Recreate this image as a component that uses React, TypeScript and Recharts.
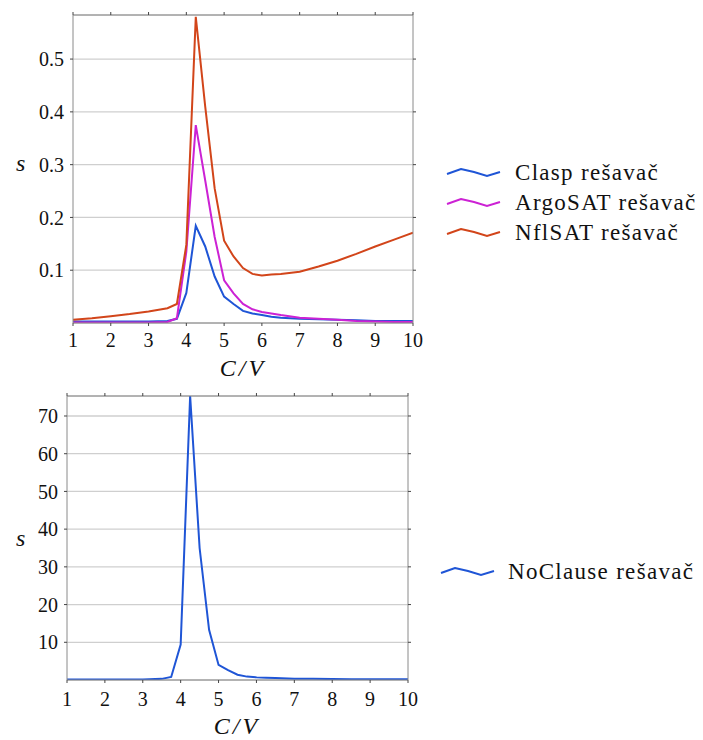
import React from 'react';
import { LineChart, Line, XAxis, YAxis, CartesianGrid } from 'recharts';

const xValues = [1, 1.5, 2, 2.5, 3, 3.5, 3.75, 4, 4.25, 4.5, 4.75, 5, 5.25, 5.5, 5.75, 6, 6.25, 6.5, 7, 7.5, 8, 8.5, 9, 9.5, 10];
const claspValues = [0.003, 0.003, 0.003, 0.003, 0.003, 0.004, 0.008, 0.057, 0.184, 0.145, 0.088, 0.05, 0.036, 0.023, 0.018, 0.015, 0.012, 0.01, 0.008, 0.007, 0.006, 0.005, 0.004, 0.004, 0.004];
const argoValues = [0.001, 0.001, 0.001, 0.001, 0.001, 0.002, 0.009, 0.135, 0.375, 0.27, 0.163, 0.081, 0.056, 0.036, 0.026, 0.021, 0.018, 0.015, 0.01, 0.008, 0.006, 0.004, 0.003, 0.002, 0.002];
const nflValues = [0.006, 0.009, 0.013, 0.017, 0.022, 0.028, 0.036, 0.148, 0.58, 0.41, 0.255, 0.156, 0.126, 0.104, 0.093, 0.09, 0.092, 0.093, 0.097, 0.107, 0.118, 0.131, 0.145, 0.158, 0.171];
const noClauseValues = [0.1, 0.1, 0.1, 0.1, 0.1, 0.3, 0.8, 9.4, 75.3, 35, 13.3, 4.0, 2.6, 1.4, 0.9, 0.7, 0.6, 0.5, 0.35, 0.3, 0.25, 0.2, 0.2, 0.2, 0.2];

const xTicks = [1, 2, 3, 4, 5, 6, 7, 8, 9, 10];
const topYTicks = [0.1, 0.2, 0.3, 0.4, 0.5];
const bottomYTicks = [10, 20, 30, 40, 50, 60, 70];

const topSeries = [
  { key: 'clasp', name: 'Clasp rešavač', values: claspValues, color: '#1f55d6' },
  { key: 'argo', name: 'ArgoSAT rešavač', values: argoValues, color: '#cc22d4' },
  { key: 'nfl', name: 'NflSAT rešavač', values: nflValues, color: '#d2451a' },
];
const bottomSeries = [
  { key: 'noclause', name: 'NoClause rešavač', values: noClauseValues, color: '#1f55d6' },
];

const topData = xValues.map((x, i) => ({ x, clasp: claspValues[i], argo: argoValues[i], nfl: nflValues[i] }));
const bottomData = xValues.map((x, i) => ({ x, noclause: noClauseValues[i] }));

const FONT = '"Liberation Serif", "DejaVu Serif", serif';
const tickStyle = { fontSize: 20, fill: '#111', fontFamily: FONT };
const empty = () => '';

function Icon({ color }: { color: string }) {
  return (
    <svg width={56} height={10} style={{ display: 'block' }}>
      <polyline points="1,6 15,1 28,4 41,8 54,4" fill="none" stroke={color} strokeWidth={2} />
    </svg>
  );
}

function Legend({ items, left, top, textGap }: { items: { name: string; color: string }[]; left: number; top: number; textGap: number }) {
  return (
    <div style={{ position: 'absolute', left, top }}>
      {items.map((it) => (
        <div key={it.name} style={{ display: 'flex', alignItems: 'center', height: 30 }}>
          <Icon color={it.color} />
          <span style={{ marginLeft: textGap, fontFamily: FONT, fontSize: 23, letterSpacing: 1.3, color: '#111', whiteSpace: 'nowrap' }}>{it.name}</span>
        </div>
      ))}
    </div>
  );
}

function Panel({ data, series, yTicks, yMax, margin, height, xTickMargin }: any) {
  return (
    <LineChart width={703} height={height} data={data} margin={margin}>
      <CartesianGrid horizontal vertical={false} stroke="#cfcfcf" strokeWidth={1.3} />
      <XAxis dataKey="x" type="number" domain={[1, 10]} ticks={xTicks} allowDataOverflow height={30}
        stroke="#8a8a8a" tickSize={3} tickMargin={xTickMargin} tick={tickStyle} tickLine={{ stroke: '#444' }} interval={0} />
      <XAxis xAxisId="top" orientation="top" dataKey="x" type="number" domain={[1, 10]} ticks={xTicks} allowDataOverflow height={4}
        stroke="#8a8a8a" tickSize={3} tickFormatter={empty} tickLine={{ stroke: '#444' }} interval={0} />
      <YAxis type="number" domain={[0, yMax]} ticks={yTicks} allowDataOverflow width={40}
        stroke="#8a8a8a" tickSize={3} tickMargin={6} tick={tickStyle} tickLine={{ stroke: '#444' }} interval={0} />
      <YAxis yAxisId="right" orientation="right" type="number" domain={[0, yMax]} ticks={yTicks} allowDataOverflow width={4}
        stroke="#8a8a8a" tickSize={3} tickFormatter={empty} tickLine={{ stroke: '#444' }} interval={0} />
      {series.map((s: any) => (
        <Line key={s.key} dataKey={s.key} type="linear" stroke={s.color} strokeWidth={2} dot={false} isAnimationActive={false} />
      ))}
    </LineChart>
  );
}

export default function App() {
  const labelStyle: React.CSSProperties = { position: 'absolute', fontFamily: FONT, fontStyle: 'italic', fontSize: 24, color: '#111', whiteSpace: 'nowrap', lineHeight: 1 };
  return (
    <div style={{ position: 'absolute', left: 0, top: 0, width: 703, height: 740, background: '#fff' }}>
      <div style={{ position: 'absolute', left: 0, top: 0 }}>
        <Panel data={topData} series={topSeries} yTicks={topYTicks} yMax={0.5835} height={370} xTickMargin={7}
          margin={{ top: 11, right: 286, bottom: 17, left: 33 }} />
      </div>
      <div style={{ position: 'absolute', left: 0, top: 370 }}>
        <Panel data={bottomData} series={bottomSeries} yTicks={bottomYTicks} yMax={75.3} height={370} xTickMargin={9}
          margin={{ top: 22, right: 291, bottom: 30, left: 27 }} />
      </div>
      <div style={{ ...labelStyle, left: 16, top: 151 }}>s</div>
      <div style={{ ...labelStyle, left: 16, top: 526 }}>s</div>
      <div style={{ ...labelStyle, left: 243, top: 368, letterSpacing: 3, transform: 'translate(-50%, -50%)' }}>C/V</div>
      <div style={{ ...labelStyle, left: 237, top: 726, letterSpacing: 3, transform: 'translate(-50%, -50%)' }}>C/V</div>
      <Legend items={topSeries} left={446} top={158} textGap={13} />
      <Legend items={bottomSeries} left={440} top={557} textGap={12} />
    </div>
  );
}
